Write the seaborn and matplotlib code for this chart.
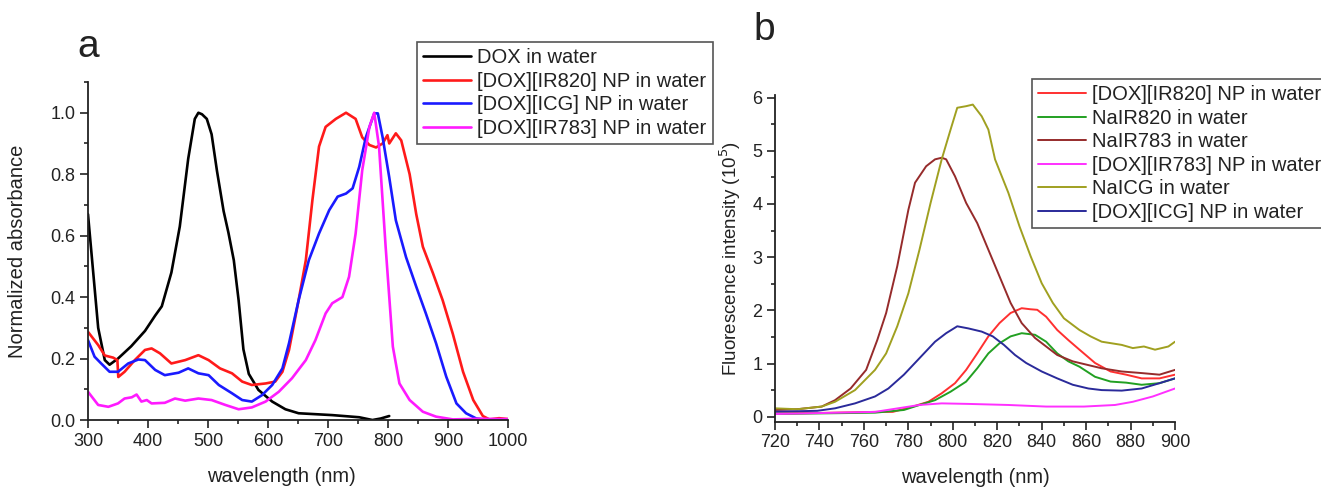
import matplotlib
matplotlib.use("Agg")
import matplotlib.pyplot as plt
import seaborn as sns
from matplotlib.ticker import MultipleLocator


# panel a: absorbance spectra
DOX_WL = [300, 317, 328, 336, 350, 372, 395, 412, 423, 439, 453, 467, 478, 484, 490, 498, 506,
          515, 526, 534, 543, 551, 559, 568, 584, 607, 629, 651, 707, 752, 774, 788, 802]
DOX_ABS = [0.67, 0.30, 0.195, 0.18, 0.20, 0.24, 0.29, 0.34, 0.37, 0.48, 0.63, 0.85, 0.98, 1.0,
           0.995, 0.98, 0.93, 0.81, 0.68, 0.61, 0.52, 0.39, 0.23, 0.15, 0.098, 0.06, 0.035,
           0.022, 0.016, 0.009, 0.0, 0.005, 0.013]

IR820_WL = [300, 317, 328, 342, 349, 350.5, 361, 378, 395, 406, 420, 439, 462, 484, 501, 520,
            540, 557, 573, 596, 612, 624, 635, 651, 663, 674, 685, 696, 713, 730, 746, 757,
            769, 780, 791, 799, 802, 813, 822, 836, 847, 858, 875, 891, 908, 925, 942, 958,
            969, 985, 1000]
IR820_ABS = [0.287, 0.244, 0.21, 0.203, 0.195, 0.14, 0.157, 0.195, 0.228, 0.233, 0.217, 0.184,
             0.195, 0.211, 0.195, 0.168, 0.152, 0.125, 0.114, 0.119, 0.125, 0.157, 0.228, 0.39,
             0.52, 0.716, 0.89, 0.954, 0.98, 1.0, 0.98, 0.92, 0.895, 0.887, 0.90, 0.927, 0.90,
             0.933, 0.91, 0.80, 0.67, 0.564, 0.477, 0.39, 0.28, 0.157, 0.065, 0.013, 0.002,
             0.006, 0.003]

ICG_WL = [300, 311, 322, 336, 350, 367, 384, 395, 412, 428, 451, 467, 484, 501, 518, 540, 557,
          573, 590, 607, 624, 635, 651, 668, 685, 702, 716, 730, 741, 752, 763, 777, 783, 791,
          802, 813, 830, 847, 863, 880, 897, 914, 930, 947, 969, 1000]
ICG_ABS = [0.26, 0.206, 0.184, 0.157, 0.157, 0.184, 0.197, 0.195, 0.163, 0.146, 0.154, 0.168,
           0.152, 0.146, 0.114, 0.087, 0.065, 0.06, 0.081, 0.114, 0.168, 0.25, 0.39, 0.52,
           0.607, 0.683, 0.727, 0.737, 0.754, 0.824, 0.92, 0.998, 0.998, 0.92, 0.79, 0.65,
           0.53, 0.434, 0.347, 0.25, 0.141, 0.054, 0.022, 0.005, 0.0, 0.002]

IR783_WL = [300, 317, 334, 350, 361, 373, 381, 389, 398, 406, 428, 445, 462, 484, 506, 529,
            551, 573, 596, 618, 640, 663, 679, 696, 707, 724, 735, 746, 757, 769, 777, 785,
            796, 808, 819, 836, 858, 880, 908, 950, 1000]
IR783_ABS = [0.092, 0.049, 0.043, 0.054, 0.07, 0.074, 0.083, 0.06, 0.065, 0.054, 0.056, 0.07,
             0.063, 0.07, 0.065, 0.049, 0.035, 0.041, 0.06, 0.092, 0.136, 0.195, 0.26, 0.347,
             0.38, 0.40, 0.466, 0.607, 0.813, 0.954, 1.0, 0.89, 0.564, 0.239, 0.119, 0.065,
             0.027, 0.011, 0.002, 0.004, 0.003]

ABS_LABELS = ["DOX in water", "[DOX][IR820] NP in water", "[DOX][ICG] NP in water",
              "[DOX][IR783] NP in water"]

# panel b: fluorescence spectra (10^5)
F_IR820NP_WL = [720, 740, 765, 773, 782, 789, 795, 801, 806, 811, 816, 821, 826, 831, 835, 838,
                842, 847, 852, 857, 864, 871, 878, 885, 893, 900]
F_IR820NP = [0.06, 0.07, 0.09, 0.09, 0.19, 0.28, 0.44, 0.63, 0.88, 1.19, 1.51, 1.76, 1.95, 2.04,
             2.02, 2.01, 1.88, 1.63, 1.44, 1.26, 1.01, 0.85, 0.79, 0.72, 0.72, 0.79]

F_NAIR820_WL = [720, 765, 778, 785, 792, 799, 806, 811, 816, 821, 826, 831, 837, 842, 847, 852,
                857, 864, 871, 878, 885, 893, 900]
F_NAIR820 = [0.05, 0.075, 0.126, 0.22, 0.31, 0.47, 0.66, 0.91, 1.19, 1.38, 1.51, 1.57, 1.54,
             1.41, 1.19, 1.04, 0.94, 0.75, 0.66, 0.64, 0.60, 0.63, 0.72]

F_NAIR783_WL = [720, 730, 741, 747, 754, 761, 766, 770, 775, 780, 783, 788, 792, 795, 797, 801,
                806, 811, 816, 821, 826, 831, 837, 842, 847, 854, 861, 867, 876, 885, 893, 900]
F_NAIR783 = [0.126, 0.14, 0.19, 0.31, 0.53, 0.88, 1.44, 1.95, 2.83, 3.89, 4.40, 4.71, 4.84,
             4.87, 4.84, 4.52, 4.02, 3.64, 3.14, 2.64, 2.14, 1.76, 1.48, 1.32, 1.16, 1.04, 0.97,
             0.91, 0.85, 0.82, 0.79, 0.88]

F_IR783NP_WL = [720, 765, 785, 795, 807, 825, 842, 859, 873, 881, 890, 900]
F_IR783NP = [0.05, 0.09, 0.22, 0.25, 0.24, 0.22, 0.19, 0.19, 0.22, 0.28, 0.38, 0.53]

F_NAICG_WL = [720, 730, 741, 747, 756, 765, 770, 775, 780, 785, 790, 795, 799, 802, 806, 809,
              813, 816, 819, 825, 830, 835, 840, 845, 850, 857, 862, 867, 876, 881, 886, 891,
              897, 900]
F_NAICG = [0.157, 0.14, 0.19, 0.28, 0.50, 0.88, 1.19, 1.70, 2.32, 3.14, 4.02, 4.84, 5.40, 5.81,
           5.84, 5.87, 5.65, 5.40, 4.84, 4.21, 3.58, 3.02, 2.51, 2.14, 1.85, 1.63, 1.51, 1.41,
           1.35, 1.29, 1.32, 1.26, 1.32, 1.41]

F_ICGNP_WL = [720, 739, 747, 756, 765, 771, 778, 785, 792, 797, 802, 807, 813, 818, 823, 828,
              833, 840, 847, 854, 861, 867, 876, 885, 893, 900]
F_ICGNP = [0.094, 0.11, 0.157, 0.25, 0.38, 0.53, 0.79, 1.10, 1.41, 1.57, 1.70, 1.66, 1.60, 1.51,
           1.35, 1.16, 1.01, 0.85, 0.72, 0.60, 0.53, 0.50, 0.49, 0.53, 0.63, 0.72]

FLUO_LABELS = ["[DOX][IR820] NP in water", "NaIR820 in water", "NaIR783 in water",
               "[DOX][IR783] NP in water", "NaICG in water", "[DOX][ICG] NP in water"]

TEXT_COLOR = "#222222"


def style_axis(ax):
	sns.despine(ax=ax)
	ax.tick_params(which="major", direction="out", length=6, width=1.2,
				   labelsize=13, colors=TEXT_COLOR, pad=3)
	ax.tick_params(which="minor", direction="out", length=3, width=1.2, colors=TEXT_COLOR)
	for side in ["left", "bottom"]:
		ax.spines[side].set_linewidth(1.3)
		ax.spines[side].set_color(TEXT_COLOR)


def add_legend(ax, fig, anchor):
	leg = ax.legend(loc="upper left", bbox_to_anchor=anchor, bbox_transform=fig.transFigure,
					borderaxespad=0, fontsize=14.5, frameon=True, fancybox=False,
					edgecolor="#555555", framealpha=1, handlelength=2.35,
					handletextpad=0.3, labelspacing=0.22, borderpad=0.32)
	leg.get_frame().set_linewidth(1.2)
	for t in leg.get_texts():
		t.set_color(TEXT_COLOR)
	return leg


def main():
	sns.set_style("ticks")
	plt.rcParams["font.family"] = ["Liberation Sans", "DejaVu Sans"]
	fig = plt.figure(figsize=(13.21, 4.92), dpi=100)

	# panel a
	ax_a = fig.add_axes([0.0666, 0.1463, 0.3180, 0.6870])
	abs_series = [(DOX_WL, DOX_ABS, "black"), (IR820_WL, IR820_ABS, "#ff1a1a"),
				  (ICG_WL, ICG_ABS, "#1a1aff"), (IR783_WL, IR783_ABS, "#ff1aff")]
	for (wl, val, color), label in zip(abs_series, ABS_LABELS):
		sns.lineplot(x=wl, y=val, ax=ax_a, color=color, lw=1.9, label=label,
					 sort=False, estimator=None)
	ax_a.set_xlim(300, 1000)
	ax_a.set_ylim(0, 1.1)
	ax_a.xaxis.set_major_locator(MultipleLocator(100))
	ax_a.xaxis.set_minor_locator(MultipleLocator(50))
	ax_a.yaxis.set_major_locator(MultipleLocator(0.2))
	ax_a.yaxis.set_minor_locator(MultipleLocator(0.1))
	ax_a.set_yticks([0, 0.2, 0.4, 0.6, 0.8, 1.0])
	ax_a.set_xlabel("wavelength (nm)", fontsize=14.5, color=TEXT_COLOR)
	ax_a.set_ylabel("Normalized absorbance", fontsize=14.5, color=TEXT_COLOR)
	ax_a.xaxis.set_label_coords(0.46, -0.14)
	ax_a.yaxis.set_label_coords(-0.145, 0.5)
	style_axis(ax_a)
	add_legend(ax_a, fig, (0.3157, 0.9146))

	# panel b
	ax_b = fig.add_axes([0.5867, 0.1423, 0.3028, 0.6646])
	fluo_series = [(F_IR820NP_WL, F_IR820NP, "#ff3030"), (F_NAIR820_WL, F_NAIR820, "#22a022"),
				   (F_NAIR783_WL, F_NAIR783, "#962b2b"), (F_IR783NP_WL, F_IR783NP, "#ff30ff"),
				   (F_NAICG_WL, F_NAICG, "#a0a020"), (F_ICGNP_WL, F_ICGNP, "#2a2a9a")]
	for (wl, val, color), label in zip(fluo_series, FLUO_LABELS):
		sns.lineplot(x=wl, y=val, ax=ax_b, color=color, lw=1.4, label=label,
					 sort=False, estimator=None)
	ax_b.set_xlim(720, 900)
	ax_b.set_ylim(-0.1, 6.05)
	ax_b.xaxis.set_major_locator(MultipleLocator(20))
	ax_b.xaxis.set_minor_locator(MultipleLocator(10))
	ax_b.yaxis.set_major_locator(MultipleLocator(1))
	ax_b.yaxis.set_minor_locator(MultipleLocator(0.5))
	ax_b.set_xlabel("wavelength (nm)", fontsize=14.5, color=TEXT_COLOR)
	ax_b.set_ylabel("Fluorescence intensity (10$^5$)", fontsize=13.5, color=TEXT_COLOR)
	ax_b.xaxis.set_label_coords(0.5, -0.14)
	ax_b.yaxis.set_label_coords(-0.08, 0.5)
	style_axis(ax_b)
	add_legend(ax_b, fig, (0.7812, 0.8394))

	fig.text(88 / 1321, 1 - 47 / 492, "a", fontsize=28, ha="center", va="center",
			 color=TEXT_COLOR)
	fig.text(764 / 1321, 1 - 30 / 492, "b", fontsize=28, ha="center", va="center",
			 color=TEXT_COLOR)

	fig.savefig("out.png", dpi=100)


if __name__ == "__main__":
	main()
